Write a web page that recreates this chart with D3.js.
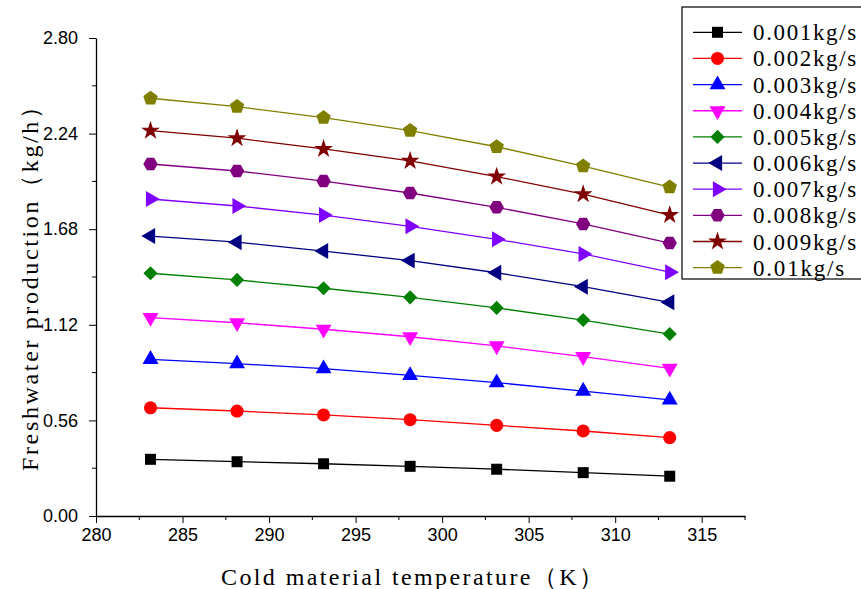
<!DOCTYPE html>
<html>
<head>
<meta charset="utf-8">
<title>Freshwater production vs cold material temperature</title>
<script src="https://cdn.jsdelivr.net/npm/d3@7"></script>
<style>
  body { margin: 0; background: #fff; }
  svg { display: block; }
  .tick text { font-family: "Liberation Sans", Arial, sans-serif; }
</style>
</head>
<body>
<div id="chart"></div>
<script>
// data
const temps = [283.15, 288.15, 293.15, 298.15, 303.15, 308.15, 313.15];
const flowLabels = ["0.001kg/s", "0.002kg/s", "0.003kg/s", "0.004kg/s", "0.005kg/s",
                    "0.006kg/s", "0.007kg/s", "0.008kg/s", "0.009kg/s", "0.01kg/s"];
const s001 = [0.332, 0.318, 0.306, 0.291, 0.274, 0.254, 0.233];
const s002 = [0.634, 0.615, 0.592, 0.564, 0.531, 0.498, 0.459];
const s003 = [0.918, 0.892, 0.863, 0.824, 0.781, 0.732, 0.680];
const s004 = [1.162, 1.132, 1.094, 1.050, 0.996, 0.933, 0.865];
const s005 = [1.422, 1.383, 1.334, 1.281, 1.219, 1.148, 1.066];
const s006 = [1.640, 1.604, 1.552, 1.496, 1.425, 1.343, 1.252];
const s007 = [1.857, 1.816, 1.763, 1.697, 1.621, 1.535, 1.428];
const s008 = [2.062, 2.021, 1.962, 1.892, 1.808, 1.711, 1.599];
const s009 = [2.257, 2.213, 2.150, 2.080, 1.988, 1.885, 1.763];
const s010 = [2.447, 2.398, 2.333, 2.257, 2.163, 2.050, 1.926];
const seriesValues = [s001, s002, s003, s004, s005, s006, s007, s008, s009, s010];
const xTicks = [280, 285, 290, 295, 300, 305, 310, 315];
const yTicks = [0, 0.56, 1.12, 1.68, 2.24, 2.8];

const colors = ["#000000", "#ff0000", "#0000ff", "#ff00ff", "#008000",
                "#000080", "#8000ff", "#800080", "#800000", "#808000"];

const W = 861, H = 589;
const serif = "'Liberation Serif', 'DejaVu Serif', serif";
const svg = d3.select("#chart").append("svg").attr("width", W).attr("height", H);

const x = d3.scaleLinear().domain([280, 317.5]).range([96, 745]);
const y = d3.scaleLinear().domain([0, 2.8]).range([516, 38]);

// marker shapes
function polygon(n, r, rot) {
  const pts = d3.range(n).map(i => {
    const a = rot + i * 2 * Math.PI / n;
    return [r * Math.cos(a), r * Math.sin(a)];
  });
  return "M" + pts.map(p => p.join(",")).join("L") + "Z";
}
const tri = d3.symbol(d3.symbolTriangle, 110)();
const markers = [
  { d: d3.symbol(d3.symbolSquare, 121)(), rot: 0 },
  { d: d3.symbol(d3.symbolCircle, 135)(), rot: 0 },
  { d: tri, rot: 0 },
  { d: tri, rot: 180 },
  { d: d3.symbol(d3.symbolSquare, 100)(), rot: 45 },
  { d: tri, rot: -90 },
  { d: tri, rot: 90 },
  { d: polygon(6, 7.2, 0), rot: 0 },
  { d: d3.symbol(d3.symbolStar, 110)(), rot: 0 },
  { d: polygon(5, 7.6, -Math.PI / 2), rot: 0 }
];

// axes
const xAxis = svg.append("g").attr("transform", `translate(0,${y(0)})`)
  .call(d3.axisBottom(x).tickValues(xTicks).tickSize(7).tickSizeOuter(0).tickPadding(5));
xAxis.selectAll(".tick text").attr("font-size", 18);
xAxis.append("g").selectAll("line")
  .data(d3.range(282.5, 317.6, 5)).join("line")
  .attr("x1", d => x(d)).attr("x2", d => x(d)).attr("y1", 0).attr("y2", 4)
  .attr("stroke", "#000");

const yAxis = svg.append("g").attr("transform", `translate(${x(280)},0)`)
  .call(d3.axisLeft(y).tickValues(yTicks).tickFormat(d3.format(".2f"))
        .tickSize(7).tickSizeOuter(0).tickPadding(11));
yAxis.selectAll(".tick text").attr("font-size", 18);
yAxis.append("g").selectAll("line")
  .data(d3.range(0.28, 2.8, 0.56)).join("line")
  .attr("y1", d => y(d)).attr("y2", d => y(d)).attr("x1", 0).attr("x2", -4)
  .attr("stroke", "#000");
svg.selectAll(".domain").attr("stroke-width", 1.3);

// axis titles
svg.append("text")
  .attr("x", 221).attr("y", 585)
  .attr("font-family", serif).attr("font-size", 24)
  .attr("textLength", 382).attr("lengthAdjust", "spacing")
  .text("Cold material temperature（K）");
svg.append("text")
  .attr("transform", "translate(38,471) rotate(-90)")
  .attr("font-family", serif).attr("font-size", 24)
  .attr("textLength", 376).attr("lengthAdjust", "spacing")
  .text("Freshwater production（kg/h）");

// series
const line = d3.line().x((d, i) => x(temps[i])).y(d => y(d));
const series = svg.append("g").selectAll("g")
  .data(seriesValues).join("g");
series.append("path")
  .attr("d", d => line(d))
  .attr("fill", "none")
  .attr("stroke", (d, i) => colors[i])
  .attr("stroke-width", 1.3);
series.each(function (vals, si) {
  d3.select(this).selectAll("path.m")
    .data(vals).join("path").attr("class", "m")
    .attr("d", markers[si].d)
    .attr("transform", (d, i) => `translate(${x(temps[i])},${y(d)}) rotate(${markers[si].rot})`)
    .attr("fill", colors[si]);
});

// legend
const legend = svg.append("g");
legend.append("rect")
  .attr("x", 682).attr("y", 7).attr("width", 200).attr("height", 272)
  .attr("fill", "#fff").attr("stroke", "#000").attr("stroke-width", 1.2);
const items = legend.selectAll("g.item").data(flowLabels).join("g")
  .attr("class", "item")
  .attr("transform", (d, i) => `translate(0,${32.3 + i * 26.15})`);
items.append("line")
  .attr("x1", 693).attr("x2", 742).attr("y1", 0).attr("y2", 0)
  .attr("stroke", (d, i) => colors[i]).attr("stroke-width", 1.3);
items.append("path")
  .attr("d", (d, i) => markers[i].d)
  .attr("transform", (d, i) => `translate(717.5,0) rotate(${markers[i].rot})`)
  .attr("fill", (d, i) => colors[i]);
items.append("text")
  .attr("x", 753).attr("y", 8)
  .attr("font-family", serif).attr("font-size", 23)
  .attr("textLength", d => d.length * 11.9 - 4).attr("lengthAdjust", "spacing")
  .text(d => d);
</script>
</body>
</html>
